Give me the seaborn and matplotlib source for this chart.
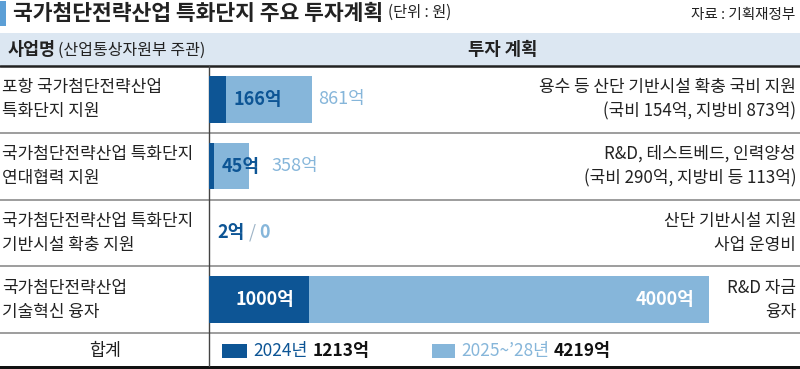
import numpy as np
import pandas as pd
import matplotlib.pyplot as plt
from matplotlib.patches import Rectangle
import seaborn as sns

sns.set_theme(style="white")
plt.rcParams['font.family'] = ['Noto Sans CJK KR', 'DejaVu Sans']

DARK = "#0d5595"
LIGHT = "#86b6da"
BAND = "#dce7f2"
INK = "#222222"

# data
projects = ["포항 국가첨단전략산업\n특화단지 지원",
            "국가첨단전략산업 특화단지\n연대협력 지원",
            "국가첨단전략산업 특화단지\n기반시설 확충 지원",
            "국가첨단전략산업\n기술혁신 융자"]
plan_2024 = [166, 45, 2, 1000]
plan_2025_28 = [861, 358, 0, 4000]
notes = ["용수 등 산단 기반시설 확충 국비 지원\n(국비 154억, 지방비 873억)",
         "R&D, 테스트베드, 인력양성\n(국비 290억, 지방비 등 113억)",
         "산단 기반시설 지원\n사업 운영비",
         "R&D 자금\n융자"]
legend_labels = ["2024년", "2025~’28년"]
legend_totals = ["1213억", "4219억"]

df = pd.DataFrame({"project": projects, "y2024": plan_2024, "y2528": plan_2025_28})
df["total"] = df["y2024"] + df["y2528"]

W, H = 800, 369
fig = plt.figure(figsize=(W / 100, H / 100), dpi=100)

# background layer in pixel coords (table frame, header, text)
bg = fig.add_axes([0, 0, 1, 1])
bg.set_xlim(0, W)
bg.set_ylim(H, 0)
bg.axis("off")

row_top, row_h = 66, 66.75
div_x = 208.5
n = len(projects)
BODY = 12.2

bg.add_patch(Rectangle((0, 1), 6, 25, color="#5c9fd6", lw=0))
tt = bg.text(13, 13, "국가첨단전략산업 특화단지 주요 투자계획", fontsize=15.5, fontweight="bold",
             color=INK, va="center")
bg.annotate("(단위 : 원)", xy=(1, 0.5), xycoords=tt, xytext=(5, 1), textcoords="offset pixels",
            fontsize=11, color=INK, va="center")
bg.text(795, 15, "자료 : 기획재정부", fontsize=10.5, color=INK, va="center", ha="right")

bg.add_patch(Rectangle((0, 33), W, row_top - 33, color=BAND, lw=0))
t = bg.text(8, 50, "사업명", fontsize=12.5, fontweight="bold", color=INK, va="center")
bg.annotate("(산업통상자원부 주관)", xy=(1, 0.5), xycoords=t, xytext=(2, 0),
            textcoords="offset pixels", fontsize=11.5, color=INK, va="center")
bg.text(503, 50, "투자 계획", fontsize=12.8, fontweight="bold", color=INK,
        va="center", ha="center")

bg.plot([0, W], [row_top, row_top], color="#222222", lw=1.8)
for i in range(1, n + 1):
    y = row_top + i * row_h
    bg.plot([0, W], [y, y], color="#8c8c8c", lw=1.2)
bg.add_patch(Rectangle((0, 366), W, 3, color="#111111", lw=0))
bg.plot([div_x, div_x], [row_top, 366], color="#444444", lw=1)

for i in range(n):
    yc = row_top + (i + 0.5) * row_h
    for k, line in enumerate(projects[i].split("\n")):
        bg.text(2, yc - 12 + 24 * k, line, fontsize=BODY, color=INK, va="center")
    for k, line in enumerate(notes[i].split("\n")):
        bg.text(796, yc - 12 + 24 * k, line, fontsize=BODY, color=INK, va="center", ha="right")

# total row
ty = 351
bg.text(105, ty, "합계", fontsize=12.5, color=INK, va="center", ha="center")
for (x0, w0), col, lab, tot in zip([(222, 25), (432, 23)], [DARK, LIGHT],
                                   legend_labels, legend_totals):
    bg.add_patch(Rectangle((x0, ty - 7), w0, 14, color=col, lw=0))
    lt = bg.text(x0 + w0 + 6, ty, lab, fontsize=12.5, color=col, va="center")
    bg.annotate(tot, xy=(1, 0.5), xycoords=lt, xytext=(5, 0), textcoords="offset pixels",
                fontsize=12.5, fontweight="bold", color="#111111", va="center")

# bars
ax = fig.add_axes([(div_x + 0.5) / W, (H - (row_top + n * row_h)) / H,
                   (W - div_x - 0.5) / W, n * row_h / H])
sns.barplot(data=df, x="total", y="project", orient="h", color=LIGHT, saturation=1,
            width=0.7, linewidth=0, errorbar=None, ax=ax)
sns.barplot(data=df, x="y2024", y="project", orient="h", color=DARK, saturation=1,
            width=0.7, linewidth=0, errorbar=None, ax=ax)
ax.set_xlim(0, 5910)
ax.axis("off")

VAL = 13
fig.canvas.draw()
renderer = fig.canvas.get_renderer()
for i, row in df.iterrows():
    v1, v2, tot = row["y2024"], row["y2528"], row["total"]
    if v1 >= 500:
        ax.annotate(f"{v1}억", xy=(v1, i), xytext=(-15, 0), textcoords="offset pixels",
                    ha="right", va="center", fontsize=VAL, fontweight="bold", color="white")
        ax.annotate(f"{v2}억", xy=(tot, i), xytext=(-15, 0), textcoords="offset pixels",
                    ha="right", va="center", fontsize=VAL, fontweight="bold", color="white")
        continue
    dt = ax.annotate(f"{v1}억", xy=(v1, i), xytext=(8, 0), textcoords="offset pixels",
                     ha="left", va="center", fontsize=VAL, fontweight="bold", color=DARK)
    if v2 == 0:
        sl = ax.annotate("/", xy=(1, 0.5), xycoords=dt, xytext=(4, 0),
                         textcoords="offset pixels", va="center", fontsize=VAL, color="#9fb5c8")
        ax.annotate("0", xy=(1, 0.5), xycoords=sl, xytext=(4, 0),
                    textcoords="offset pixels", va="center", fontsize=VAL,
                    fontweight="bold", color=LIGHT)
        continue
    end_px = ax.transData.transform((tot, i))[0]
    lab_px = dt.get_window_extent(renderer).x1
    if lab_px + 4 > end_px:
        ax.annotate(f"{v2}억", xy=(1, 0.5), xycoords=dt, xytext=(12, 0),
                    textcoords="offset pixels", va="center", fontsize=VAL, color=LIGHT)
    else:
        ax.annotate(f"{v2}억", xy=(tot, i), xytext=(6, 0), textcoords="offset pixels",
                    ha="left", va="center", fontsize=VAL, color=LIGHT)

fig.savefig("out.png", dpi=100)
